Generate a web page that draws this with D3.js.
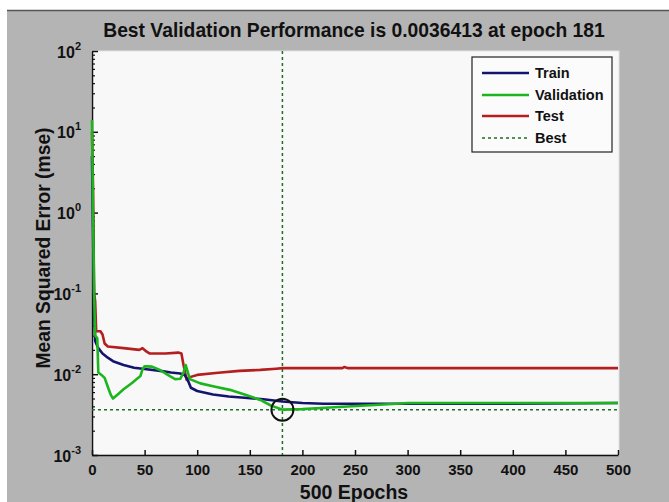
<!DOCTYPE html>
<html><head><meta charset="utf-8">
<script src="https://cdn.jsdelivr.net/npm/d3@7"></script>
<style>
html,body{margin:0;padding:0;background:#fff;}
svg{display:block;font-family:"Liberation Sans",Arial,sans-serif;}
</style></head>
<body>
<script>
// ---- data ----
const titleText = "Best Validation Performance is 0.0036413 at epoch 181";
const xLabel = "500 Epochs";
const yLabel = "Mean Squared Error  (mse)";
const xTicks = [0,50,100,150,200,250,300,350,400,450,500];
const yTickExps = [-3,-2,-1,0,1,2];
const bestEpoch = 181;
const bestValue = 0.0036413;

const trainEpochs = [0,1,2,3,4,6,10,15,20,30,40,52,65,75,84,88,91,94,100,115,130,145,163,181,200,220,250,300,400,500];
const trainValues = [5,0.6,0.06,0.026,0.024,0.021,0.018,0.016,0.0145,0.013,0.012,0.0115,0.011,0.0105,0.0102,0.0098,0.0085,0.0068,0.0062,0.0056,0.0053,0.0051,0.0049,0.0046,0.0044,0.0043,0.0043,0.0043,0.0043,0.0044];

const valEpochs = [0,1,2,3,5,6,9,12,15,18,20,25,30,38,46,48,50,52,57,65,72,79,84,87,89,93,103,115,131,145,160,170,181,200,230,260,290,300,500];
const valValues = [14,1.0,0.1,0.03,0.028,0.0105,0.0098,0.009,0.007,0.0055,0.005,0.0057,0.0065,0.0078,0.0095,0.0115,0.0125,0.0125,0.0124,0.0112,0.0098,0.0087,0.0088,0.0105,0.013,0.0087,0.0077,0.0071,0.0064,0.0056,0.0048,0.0041,0.0036413,0.0037,0.0039,0.0041,0.0043,0.0044,0.0044];

const testEpochs = [0,1,2,3,4,8,10,12,15,30,45,48,52,55,70,82,85,87,90,93,100,120,140,160,175,181,238,240,243,500];
const testValues = [10,2,0.1,0.08,0.034,0.034,0.031,0.024,0.022,0.021,0.02,0.021,0.019,0.018,0.018,0.0185,0.018,0.013,0.0085,0.0092,0.0098,0.0104,0.011,0.0113,0.0117,0.0119,0.0119,0.0123,0.0119,0.0119];

const seriesNames = ["Train","Validation","Test","Best"];
const seriesColors = ["#14146e","#1db51d","#b41e1e","#1f6b2a"];

// ---- layout ----
const W = 669, H = 502;
const svg = d3.select("body").append("svg").attr("width",W).attr("height",H);

svg.append("rect").attr("width",W).attr("height",H).attr("fill","#ffffff");
svg.append("rect").attr("x",7).attr("y",10).attr("width",W-7).attr("height",H-10).attr("fill","#b4b4b4");
svg.append("line").attr("x1",7).attr("x2",W).attr("y1",10.5).attr("y2",10.5).attr("stroke","#555").attr("stroke-width",1.5);

const x = d3.scaleLinear().domain([0,500]).range([92,618]);
const y = d3.scaleLog().domain([1e-3,1e2]).range([455,51]);

svg.append("rect").attr("x",92).attr("y",51).attr("width",527).attr("height",404)
  .attr("fill","#f8f8f8").attr("stroke","#e2e2e2").attr("stroke-width",1);

// title & labels
svg.append("text").attr("x",354).attr("y",37).attr("text-anchor","middle")
  .attr("font-size",19.3).attr("font-weight","bold").attr("fill","#111").text(titleText);
svg.append("text").attr("x",354).attr("y",499).attr("text-anchor","middle")
  .attr("font-size",19.5).attr("font-weight","bold").attr("fill","#111").text(xLabel);
svg.append("text").attr("transform","translate(50,248) rotate(-90)").attr("text-anchor","middle")
  .attr("font-size",19.3).attr("font-weight","bold").attr("fill","#111").text(yLabel);

// x axis
const gx = svg.append("g").attr("transform","translate(0,455)")
  .call(d3.axisBottom(x).tickValues(xTicks).tickSize(-5).tickSizeOuter(0).tickPadding(9).tickFormat(d3.format("d")));
gx.select(".domain").attr("stroke","#111").attr("stroke-width",1.5);
gx.selectAll(".tick line").attr("stroke","#111").attr("stroke-width",1.5);
gx.selectAll("text").attr("font-size",15).attr("font-weight","bold").attr("fill","#111")
  .attr("font-family","'Liberation Sans',Arial,sans-serif");

// y axis minor
const minor = [];
for (let e=-3;e<2;e++) for (let m=2;m<10;m++) minor.push(m*Math.pow(10,e));
const gym = svg.append("g").attr("transform","translate(92,0)")
  .call(d3.axisLeft(y).tickValues(minor).tickSize(-3).tickSizeOuter(0).tickFormat(""));
gym.select(".domain").remove();
gym.selectAll(".tick line").attr("stroke","#111").attr("stroke-width",1.2);

const gy = svg.append("g").attr("transform","translate(92,0)")
  .call(d3.axisLeft(y).tickValues(yTickExps.map(e=>Math.pow(10,e))).tickSize(-6).tickSizeOuter(0).tickFormat(""));
gy.select(".domain").attr("stroke","#111").attr("stroke-width",1.5);
gy.selectAll(".tick line").attr("stroke","#111").attr("stroke-width",1.5);
gy.selectAll(".tick").each(function(d){
  const e = Math.round(Math.log10(d));
  const t = d3.select(this).append("text").attr("x",-11).attr("y",6)
    .attr("text-anchor","end").attr("font-size",16).attr("font-weight","bold").attr("fill","#111")
    .attr("font-family","'Liberation Sans',Arial,sans-serif");
  t.append("tspan").text("10");
  t.append("tspan").attr("font-size",11).attr("dy",-8).text(String(e));
});

// best lines
const dashColor = seriesColors[3];
svg.append("line").attr("x1",x(bestEpoch)).attr("x2",x(bestEpoch)).attr("y1",y(1e2)).attr("y2",y(1e-3))
  .attr("stroke",dashColor).attr("stroke-width",1.5).attr("stroke-dasharray","3,3");
svg.append("line").attr("x1",x(0)).attr("x2",x(500)).attr("y1",y(bestValue)).attr("y2",y(bestValue))
  .attr("stroke",dashColor).attr("stroke-width",1.5).attr("stroke-dasharray","3,3");

// series
const line = d3.line().x(d=>x(d[0])).y(d=>y(d[1]));
const series = [
  {e:testEpochs, v:testValues, c:seriesColors[2]},
  {e:trainEpochs, v:trainValues, c:seriesColors[0]},
  {e:valEpochs, v:valValues, c:seriesColors[1]}
];
series.forEach(s=>{
  svg.append("path").datum(s.e.map((e,i)=>[e,s.v[i]]))
    .attr("d",line).attr("fill","none").attr("stroke",s.c).attr("stroke-width",2.6)
    .attr("stroke-linejoin","round");
});

// best circle
svg.append("circle").attr("cx",x(bestEpoch)).attr("cy",y(bestValue)).attr("r",11)
  .attr("fill","none").attr("stroke","#111").attr("stroke-width",2);

// legend
const lg = svg.append("g");
lg.append("rect").attr("x",472).attr("y",57).attr("width",140).attr("height",95)
  .attr("fill","#fbfbfb").attr("stroke","#222").attr("stroke-width",1.2);
const ly = [73,95,116,138];
seriesNames.forEach((n,i)=>{
  lg.append("line").attr("x1",482).attr("x2",529).attr("y1",ly[i]).attr("y2",ly[i])
    .attr("stroke",seriesColors[i]).attr("stroke-width",i===3?1.5:2.5)
    .attr("stroke-dasharray",i===3?"3,3":null);
  lg.append("text").attr("x",535).attr("y",ly[i]+5).attr("font-size",14.5).attr("font-weight","bold")
    .attr("fill","#111").text(n);
});
</script>
</body></html>
